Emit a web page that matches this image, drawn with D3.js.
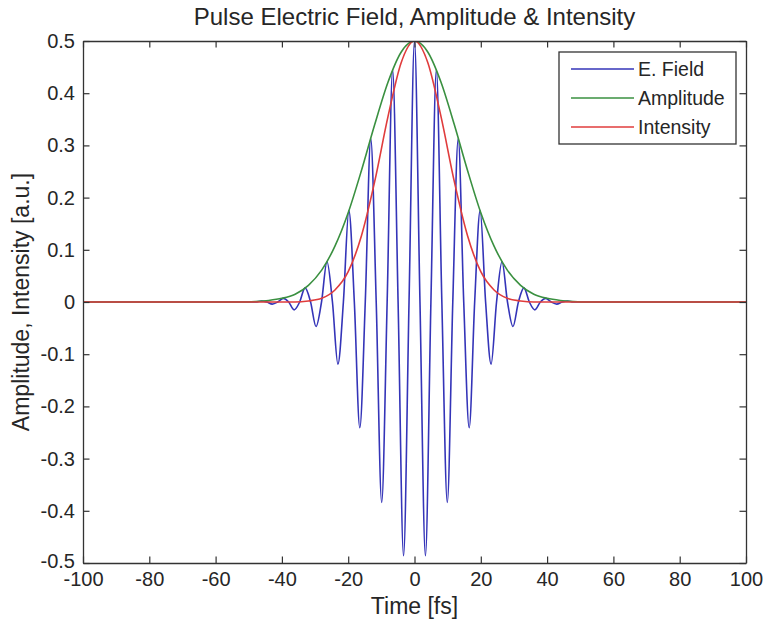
<!DOCTYPE html>
<html>
<head>
<meta charset="utf-8">
<script src="https://cdn.jsdelivr.net/npm/d3@7"></script>
<style>
  body { margin: 0; background: #fff; }
  svg text { font-family: "Liberation Sans", Arial, sans-serif; fill: #262626; }
</style>
</head>
<body>
<div id="chart"></div>
<script>
// Time axis of the E. Field trace [fs] (extrema and zero crossings)
const fieldTimes = [-100, -47.85, -46.2, -44.55, -42.9, -41.25, -39.6, -37.95, -36.3, -34.65, -33.0,
  -31.35, -29.7, -28.05, -26.4, -24.75, -23.1, -21.45, -19.8, -18.15, -16.5, -14.85, -13.2, -11.55,
  -9.9, -8.25, -6.6, -4.95, -3.3, -1.65, 0, 1.65, 3.3, 4.95, 6.6, 8.25, 9.9, 11.55, 13.2, 14.85,
  16.5, 18.15, 19.8, 21.45, 23.1, 24.75, 26.4, 28.05, 29.7, 31.35, 33.0, 34.65, 36.3, 37.95, 39.6,
  41.25, 42.9, 44.55, 46.2, 47.85, 100];
const fieldValues = [0, 0, 0.002, 0, -0.004, 0, 0.007, 0, -0.015, 0, 0.027,
  0, -0.047, 0, 0.077, 0, -0.119, 0, 0.175, 0, -0.241, 0, 0.313, 0,
  -0.384, 0, 0.445, 0, -0.486, 0, 0.5, 0, -0.486, 0, 0.445, 0, -0.384, 0, 0.313, 0,
  -0.241, 0, 0.175, 0, -0.119, 0, 0.077, 0, -0.047, 0, 0.027, 0, -0.015, 0, 0.007,
  0, -0.004, 0, 0.002, 0, 0];

// Envelope curves
const envTimes = [-100, -52, -48, -44, -40, -36, -32, -28, -24, -20, -16, -12, -8, -4, 0,
  4, 8, 12, 16, 20, 24, 28, 32, 36, 40, 44, 48, 52, 100];
const amplitudeValues = [0, 0, 0.001, 0.003, 0.007, 0.015, 0.032, 0.061, 0.107, 0.171, 0.252, 0.340, 0.421, 0.479, 0.5,
  0.479, 0.421, 0.340, 0.252, 0.171, 0.107, 0.061, 0.032, 0.015, 0.007, 0.003, 0.001, 0, 0];
const intensityValues = [0, 0, 0, 0, 0, 0, 0.002, 0.007, 0.023, 0.058, 0.127, 0.231, 0.355, 0.459, 0.5,
  0.459, 0.355, 0.231, 0.127, 0.058, 0.023, 0.007, 0.002, 0, 0, 0, 0, 0, 0];

const xTicks = [-100, -80, -60, -40, -20, 0, 20, 40, 60, 80, 100];
const yTicks = [-0.5, -0.4, -0.3, -0.2, -0.1, 0, 0.1, 0.2, 0.3, 0.4, 0.5];
const seriesNames = ['E. Field', 'Amplitude', 'Intensity'];
const seriesColors = ['#3434b8', '#3a9040', '#e03c3c'];

const W = 763, H = 626;
const margin = { top: 41, right: 17, bottom: 63, left: 83 };
const innerW = W - margin.left - margin.right;
const innerH = H - margin.top - margin.bottom;

const svg = d3.select('#chart').append('svg')
  .attr('width', W).attr('height', H);

const g = svg.append('g').attr('transform', `translate(${margin.left},${margin.top})`);

const x = d3.scaleLinear().domain([-100, 100]).range([0, innerW]);
const y = d3.scaleLinear().domain([-0.5, 0.5]).range([innerH, 0]);

// series
const fieldData = fieldTimes.map((t, i) => ({ t, v: fieldValues[i] }));
const ampData = envTimes.map((t, i) => ({ t, v: amplitudeValues[i] }));
const intData = envTimes.map((t, i) => ({ t, v: intensityValues[i] }));

const line = d3.line().x(d => x(d.t)).y(d => y(d.v)).curve(d3.curveMonotoneX);

g.append('clipPath').attr('id', 'plotclip')
  .append('rect').attr('width', innerW).attr('height', innerH);

const plot = g.append('g').attr('clip-path', 'url(#plotclip)');
[fieldData, ampData, intData].forEach((data, i) => {
  plot.append('path')
    .datum(data)
    .attr('d', line)
    .attr('fill', 'none')
    .attr('stroke', seriesColors[i])
    .attr('stroke-width', 1.6);
});

// axes, MATLAB style: box with inward ticks on all sides
const tickLen = 6.5;
const fmtX = d => String(d);
const fmtY = d => String(d); // plain hyphen like MATLAB

const xBottom = g.append('g').attr('transform', `translate(0,${innerH})`)
  .call(d3.axisBottom(x).tickValues(xTicks).tickSizeInner(-tickLen).tickSizeOuter(0).tickPadding(9).tickFormat(fmtX));
const xTop = g.append('g')
  .call(d3.axisTop(x).tickValues(xTicks).tickSizeInner(-tickLen).tickSizeOuter(0).tickFormat(''));
const yLeft = g.append('g')
  .call(d3.axisLeft(y).tickValues(yTicks).tickSizeInner(-tickLen).tickSizeOuter(0).tickPadding(8).tickFormat(fmtY));
const yRight = g.append('g').attr('transform', `translate(${innerW},0)`)
  .call(d3.axisRight(y).tickValues(yTicks).tickSizeInner(-tickLen).tickSizeOuter(0).tickFormat(''));

[xBottom, xTop, yLeft, yRight].forEach(a => {
  a.select('.domain').attr('stroke', '#333').attr('stroke-width', 1.3);
  a.selectAll('.tick line').attr('stroke', '#333').attr('stroke-width', 1.2);
  a.selectAll('.tick text').attr('font-size', 20).attr('fill', '#262626')
    .style('font-family', '"Liberation Sans", Arial, sans-serif');
});
xBottom.selectAll('.tick text').attr('dy', '0.71em');
// lowest y label sits a touch higher so it clears "-100"
yLeft.selectAll('.tick text').filter(d => d === -0.5).attr('dy', '0.2em');

// titles
svg.append('text')
  .attr('x', margin.left + innerW / 2).attr('y', 25)
  .attr('text-anchor', 'middle').attr('font-size', 24)
  .text('Pulse Electric Field, Amplitude & Intensity');

svg.append('text')
  .attr('x', margin.left + innerW / 2).attr('y', 614)
  .attr('text-anchor', 'middle').attr('font-size', 23)
  .text('Time [fs]');

svg.append('text')
  .attr('transform', `translate(29,${margin.top + innerH / 2}) rotate(-90)`)
  .attr('text-anchor', 'middle').attr('font-size', 23)
  .text('Amplitude, Intensity [a.u.]');

// legend
const legend = g.append('g').attr('transform', `translate(${559 - margin.left},${52 - margin.top})`);
legend.append('rect')
  .attr('width', 177).attr('height', 92)
  .attr('fill', '#fff').attr('stroke', '#333').attr('stroke-width', 1.3);
seriesNames.forEach((name, i) => {
  const row = legend.append('g').attr('transform', `translate(0,${17 + i * 29})`);
  row.append('line')
    .attr('x1', 12).attr('x2', 75)
    .attr('stroke', seriesColors[i]).attr('stroke-width', 1.6);
  row.append('text')
    .attr('x', 79).attr('dy', '0.36em').attr('font-size', 19.5)
    .text(name);
});
</script>
</body>
</html>
